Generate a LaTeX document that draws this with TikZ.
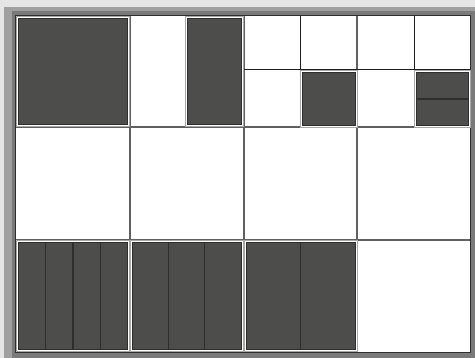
\documentclass[tikz,border=0pt]{standalone}
\definecolor{bglight}{HTML}{E6E6E6}
\definecolor{framemid}{HTML}{A0A0A0}
\definecolor{framedark}{HTML}{7A7A7A}
\definecolor{blockfill}{HTML}{4D4D4B}
\definecolor{blockedge}{HTML}{2E2E2E}
\definecolor{gridline}{HTML}{606060}
\definecolor{subline}{HTML}{1E1E1E}
\definecolor{halogray}{HTML}{A8A8A8}
\newcommand\myblock[4]{%
  \draw[halogray, line width=0.7pt] ({#1-2.2},{#2-2.2}) rectangle ({#3+2.2},{#4+2.2});
  \draw[white, line width=1.4pt] ({#1-1.1},{#2-1.1}) rectangle ({#3+1.1},{#4+1.1});
  \filldraw[blockbox] (#1,#2) rectangle (#3,#4);}
\begin{document}
\begin{tikzpicture}[x=1pt,y=-1pt,
  blockbox/.style={fill=blockfill, draw=blockedge, line width=0.9pt},
  mainline/.style={draw=gridline, line width=1.6pt},
  thinline/.style={draw=subline, line width=1pt},
  stripline/.style={draw=blockedge, line width=1.3pt}]
\useasboundingbox (0,0) rectangle (475,358);
\fill[bglight] (0,0) rectangle (475,358);
\fill[framemid] (4,7) rectangle (475,358);
\fill[framedark] (12,11) rectangle (475,358);
\fill[white] (16,16) rectangle (470,352);
% grid
\foreach \x in {130,244,357} \draw[mainline] (\x,16) -- (\x,352);
\foreach \y in {127,240} \draw[mainline] (16,\y) -- (470,\y);
\foreach \x in {300,414} \draw[thinline] (\x,16) -- (\x,127);
\draw[thinline] (244,70) -- (470,70);
\draw[blockedge, line width=1pt] (15.5,15.5) rectangle (470.5,352.5);
% top row blocks
\myblock{18.5}{18.5}{127.5}{124.5}
\myblock{187.5}{18.5}{241}{124.5}
\myblock{302.5}{72.5}{355}{125}
\myblock{416.5}{72.5}{468.5}{125}
\draw[stripline] (416.5,99) -- (468.5,99);
% bottom row blocks
\myblock{18.5}{242.5}{127.5}{349.5}
\foreach \x in {45.75,73,100.25} \draw[stripline] (\x,242.5) -- (\x,349.5);
\myblock{132.5}{242.5}{241}{349.5}
\foreach \x in {168.7,204.8} \draw[stripline] (\x,242.5) -- (\x,349.5);
\myblock{246.5}{242.5}{355}{349.5}
\draw[stripline] (300.5,242.5) -- (300.5,349.5);
\end{tikzpicture}
\end{document}
